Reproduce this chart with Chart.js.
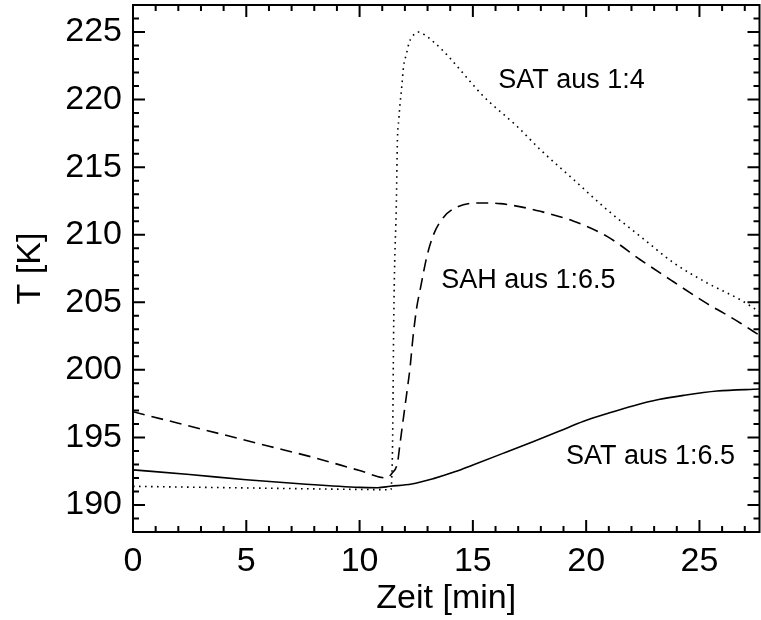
<!DOCTYPE html>
<html>
<head>
<meta charset="utf-8">
<title>Temperatur</title>
<script src="https://cdn.jsdelivr.net/npm/chart.js@4.4.1/dist/chart.umd.min.js"></script>
<style>
    html, body { margin: 0; padding: 0; background: #ffffff; overflow: hidden; }
    #tempChart { display: block; }
</style>
</head>
<body>
<canvas id="tempChart" width="761" height="620"></canvas>
<script>
// SAT aus 1:6.5 (durchgezogen)
const timeSatSlow = [0, 2.5, 5, 7.5, 10, 10.8, 11.35, 12.3, 13.26, 14.2, 15.03, 16.3, 17.68, 18.8, 19.89, 21.0, 22.1, 23.2, 24.3, 25.78, 27.65];
const tempSatSlow = [192.6, 192.25, 191.87, 191.55, 191.3, 191.28, 191.38, 191.55, 191.95, 192.45, 192.98, 193.8, 194.7, 195.45, 196.19, 196.8, 197.35, 197.8, 198.11, 198.43, 198.58];

// SAH aus 1:6.5 (gestrichelt)
const timeSah = [0, 2, 4, 6, 8, 10, 11.2, 11.43, 11.67, 11.79, 11.94, 12.1, 12.23, 12.35, 12.53, 12.67, 12.82, 12.97, 13.26, 13.71, 14.3, 15.2, 16.2, 17.0, 17.98, 19.45, 20.92, 22.39, 23.87, 25.34, 26.07, 26.8, 27.65];
const tempSah = [196.9, 196.05, 195.2, 194.35, 193.5, 192.55, 192.0, 192.35, 193.1, 194.6, 196.5, 198.5, 200.2, 202.3, 204.7, 205.9, 207.2, 208.4, 210.0, 211.3, 212.05, 212.35, 212.3, 212.1, 211.73, 211.0, 209.88, 208.15, 206.5, 204.9, 204.2, 203.47, 202.55];

// SAT aus 1:4 (gepunktet)
const timeSatFast = [0, 5, 10, 11.38, 11.42, 11.46, 11.5, 11.54, 11.62, 11.67, 11.73, 11.79, 11.87, 11.94, 12.06, 12.19, 12.31, 12.6, 12.97, 13.19, 13.59, 13.96, 15.47, 16.95, 17.98, 19.45, 20.92, 22.39, 23.87, 25.34, 26.8, 27.65];
const tempSatFast = [191.38, 191.26, 191.15, 191.13, 192.0, 195.0, 202.5, 207.2, 212.1, 217.0, 218.5, 219.75, 221.1, 222.46, 223.32, 224.23, 224.63, 225.0, 224.68, 224.38, 223.77, 223.12, 220.24, 218.02, 216.29, 214.07, 211.85, 209.88, 207.91, 206.43, 205.19, 204.3];

const xTicks = [0, 5, 10, 15, 20, 25];
const yTicks = [190, 195, 200, 205, 210, 215, 220, 225];

const curveLabels = [
    { text: 'SAT aus 1:4', t: 19.35, temp: 221.4 },
    { text: 'SAH aus 1:6.5', t: 17.45, temp: 206.6 },
    { text: 'SAT aus 1:6.5', t: 22.84, temp: 193.6 }
];

const FONT = '"Liberation Sans", Arial, Helvetica, sans-serif';

function toPoints(xs, ys) {
    return xs.map((x, i) => ({ x: x, y: ys[i] }));
}

function noPadding(s) {
    s.paddingLeft = 0;
    s.paddingRight = 0;
    s.paddingTop = 0;
    s.paddingBottom = 0;
}

// frame with inward ticks on all four sides, IDL style
const framePlugin = {
    id: 'frame',
    afterDatasetsDraw(chart) {
        const { ctx, chartArea: a, scales } = chart;
        const xs = scales.x, ys = scales.y;
        ctx.save();
        ctx.strokeStyle = '#000';
        ctx.lineWidth = 2;
        ctx.strokeRect(a.left, a.top, a.right - a.left, a.bottom - a.top);

        ctx.beginPath();
        for (let v = Math.ceil(xs.min); v <= xs.max; v++) {
            const px = xs.getPixelForValue(v);
            const len = v % 5 === 0 ? 12 : 6;
            ctx.moveTo(px, a.bottom); ctx.lineTo(px, a.bottom - len);
            ctx.moveTo(px, a.top); ctx.lineTo(px, a.top + len);
        }
        for (let v = Math.ceil(ys.min); v <= ys.max; v++) {
            const py = ys.getPixelForValue(v);
            const len = v % 5 === 0 ? 12 : 6;
            ctx.moveTo(a.left, py); ctx.lineTo(a.left + len, py);
            ctx.moveTo(a.right, py); ctx.lineTo(a.right - len, py);
        }
        ctx.stroke();

        ctx.fillStyle = '#000';
        ctx.font = '27px ' + FONT;
        ctx.textAlign = 'center';
        ctx.textBaseline = 'middle';
        curveLabels.forEach((l) => {
            ctx.fillText(l.text, xs.getPixelForValue(l.t), ys.getPixelForValue(l.temp));
        });
        ctx.restore();
    }
};

class TempChart {
    constructor() {
        this.chart = null;
        this.createChart();
    }

    lineStyle(dash) {
        return {
            borderColor: '#000',
            borderWidth: 1.6,
            borderDash: dash,
            borderCapStyle: 'butt',
            pointRadius: 0,
            cubicInterpolationMode: 'monotone',
            fill: false
        };
    }

    createChart() {
        const ctx = document.getElementById('tempChart');
        this.chart = new Chart(ctx, {
            type: 'line',
            data: {
                datasets: [
                    Object.assign({ label: 'SAT aus 1:6.5', data: toPoints(timeSatSlow, tempSatSlow) }, this.lineStyle([])),
                    Object.assign({ label: 'SAH aus 1:6.5', data: toPoints(timeSah, tempSah) }, this.lineStyle([12, 7])),
                    Object.assign({ label: 'SAT aus 1:4', data: toPoints(timeSatFast, tempSatFast) }, this.lineStyle([1.6, 4.4]))
                ]
            },
            options: {
                responsive: false,
                animation: false,
                devicePixelRatio: 1,
                layout: { padding: { left: 0, right: 1.5, top: 5, bottom: 0 } },
                plugins: {
                    legend: { display: false },
                    tooltip: { enabled: false }
                },
                scales: {
                    x: {
                        type: 'linear',
                        min: 0,
                        max: 27.65,
                        afterBuildTicks: (s) => { s.ticks = xTicks.map(v => ({ value: v })); },
                        afterFit: (s) => { s.height = 88; noPadding(s); },
                        grid: { display: false, drawTicks: false },
                        border: { display: false },
                        ticks: {
                            color: '#000',
                            padding: 9,
                            maxRotation: 0,
                            font: { family: FONT, size: 34 }
                        },
                        title: {
                            display: true,
                            text: 'Zeit [min]',
                            color: '#000',
                            padding: { top: 0, bottom: 1 },
                            font: { family: FONT, size: 34 }
                        }
                    },
                    y: {
                        type: 'linear',
                        min: 188,
                        max: 227,
                        afterBuildTicks: (s) => { s.ticks = yTicks.map(v => ({ value: v })); },
                        afterFit: (s) => { s.width = 133; noPadding(s); },
                        grid: { display: false, drawTicks: false },
                        border: { display: false },
                        ticks: {
                            color: '#000',
                            padding: 11,
                            font: { family: FONT, size: 34 }
                        },
                        title: {
                            display: true,
                            text: 'T [K]',
                            color: '#000',
                            padding: { top: 10, bottom: 0 },
                            font: { family: FONT, size: 34 }
                        }
                    }
                }
            },
            plugins: [framePlugin]
        });
    }
}

window.tempChart = new TempChart();
</script>
</body>
</html>
